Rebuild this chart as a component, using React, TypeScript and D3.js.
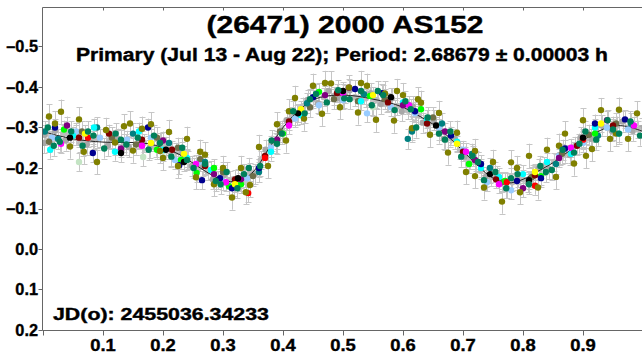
import React from "react";
import * as d3 from "d3";

const TITLE = "(26471) 2000 AS152";
const SUBTITLE = "Primary (Jul 13 - Aug 22); Period: 2.68679 ± 0.00003 h";
const EPOCH = "JD(o): 2455036.34233";

const X_TICKS = [0.1, 0.2, 0.3, 0.4, 0.5, 0.6, 0.7, 0.8, 0.9];
const Y_TICKS = [-0.5, -0.4, -0.3, -0.2, -0.1, 0.0, 0.1, 0.2];

const FIT_PHASE = [0, 0.025, 0.05, 0.075, 0.1, 0.125, 0.15, 0.175, 0.2, 0.225, 0.25, 0.275, 0.3, 0.325, 0.35, 0.375, 0.4, 0.425, 0.45, 0.475, 0.5, 0.525, 0.55, 0.575, 0.6, 0.625, 0.65, 0.675, 0.7, 0.725, 0.75, 0.775, 0.8, 0.825, 0.85, 0.875, 0.9, 0.925, 0.95, 0.975, 1.0];
const FIT_MAG = [-0.29, -0.28, -0.272, -0.267, -0.264, -0.263, -0.263, -0.26, -0.25, -0.235, -0.212, -0.188, -0.17, -0.167, -0.19, -0.245, -0.3, -0.34, -0.368, -0.378, -0.38, -0.377, -0.37, -0.362, -0.35, -0.33, -0.308, -0.278, -0.242, -0.205, -0.175, -0.163, -0.172, -0.192, -0.213, -0.24, -0.268, -0.29, -0.304, -0.302, -0.29];

type P = [number, number];

const GRAY_PTS: P[] = [[0.001,-0.262],[0.003,-0.282],[0.02,-0.292],[0.038,-0.268],[0.055,-0.282],[0.073,-0.258],[0.09,-0.275],[0.108,-0.255],[0.125,-0.272],[0.143,-0.252],[0.16,-0.272],[0.178,-0.25],[0.196,-0.262],[0.213,-0.23],[0.231,-0.24],[0.248,-0.205],[0.266,-0.205],[0.283,-0.172],[0.301,-0.182],[0.318,-0.155],[0.336,-0.178],[0.353,-0.185],[0.371,-0.245],[0.388,-0.262],[0.406,-0.318],[0.423,-0.33],[0.441,-0.368],[0.458,-0.36],[0.476,-0.39],[0.493,-0.372],[0.511,-0.392],[0.528,-0.368],[0.546,-0.385],[0.563,-0.358],[0.581,-0.372],[0.598,-0.34],[0.616,-0.352],[0.633,-0.312],[0.651,-0.318],[0.668,-0.272],[0.686,-0.272],[0.703,-0.228],[0.721,-0.218],[0.738,-0.178],[0.756,-0.18],[0.773,-0.15],[0.791,-0.178],[0.808,-0.165],[0.826,-0.198],[0.843,-0.198],[0.861,-0.232],[0.878,-0.232],[0.896,-0.275],[0.913,-0.272],[0.931,-0.305],[0.948,-0.292],[0.966,-0.315],[0.983,-0.292],[0.998,-0.298]];
const LIGHTGRAY_PTS: P[] = [[0.012,-0.27],[0.035,-0.285],[0.062,-0.262],[0.085,-0.27],[0.112,-0.27],[0.135,-0.262],[0.168,-0.262],[0.188,-0.25],[0.205,-0.255],[0.222,-0.24],[0.242,-0.22],[0.258,-0.196],[0.275,-0.192],[0.292,-0.17],[0.311,-0.17],[0.328,-0.165],[0.345,-0.19],[0.363,-0.22],[0.38,-0.258],[0.398,-0.295],[0.415,-0.328],[0.433,-0.352],[0.45,-0.37],[0.468,-0.375],[0.485,-0.378],[0.503,-0.382],[0.52,-0.375],[0.538,-0.372],[0.556,-0.368],[0.573,-0.36],[0.59,-0.352],[0.608,-0.342],[0.625,-0.33],[0.643,-0.31],[0.66,-0.292],[0.678,-0.275],[0.695,-0.245],[0.712,-0.22],[0.73,-0.195],[0.747,-0.178],[0.765,-0.165],[0.782,-0.165],[0.8,-0.172],[0.817,-0.185],[0.835,-0.205],[0.852,-0.215],[0.87,-0.235],[0.887,-0.255],[0.905,-0.272],[0.922,-0.29],[0.94,-0.3],[0.957,-0.305],[0.975,-0.3],[0.992,-0.295]];
const LIGHTBLUE_PTS: P[] = [[0.015,-0.275],[0.055,-0.29],[0.095,-0.275],[0.14,-0.27],[0.18,-0.275],[0.22,-0.22],[0.26,-0.215],[0.3,-0.168],[0.34,-0.175],[0.38,-0.25],[0.42,-0.322],[0.46,-0.355],[0.5,-0.368],[0.54,-0.335],[0.58,-0.35],[0.62,-0.335],[0.66,-0.3],[0.7,-0.245],[0.74,-0.165],[0.78,-0.145],[0.82,-0.185],[0.86,-0.23],[0.9,-0.262],[0.94,-0.3],[0.975,-0.295]];
const PALEGREEN_PTS: P[] = [[0.06,-0.215],[0.167,-0.227],[0.2,-0.24],[0.55,-0.35]];
const DARKOLIVE_PTS: P[] = [[0.01,-0.265],[0.065,-0.29],[0.115,-0.275],[0.155,-0.258],[0.19,-0.275],[0.225,-0.25],[0.262,-0.222],[0.3,-0.19],[0.35,-0.18],[0.395,-0.29],[0.445,-0.35],[0.485,-0.37],[0.525,-0.365],[0.57,-0.37],[0.65,-0.325],[0.725,-0.215],[0.765,-0.165],[0.815,-0.178],[0.865,-0.235],[0.91,-0.282],[0.955,-0.31]];
const TEAL_PTS: P[] = [[0.003,-0.29],[0.025,-0.272],[0.09,-0.3],[0.15,-0.285],[0.21,-0.262],[0.27,-0.215],[0.36,-0.19],[0.44,-0.36],[0.535,-0.382],[0.608,-0.272],[0.615,-0.29],[0.665,-0.31],[0.715,-0.235],[0.745,-0.2],[0.855,-0.21],[0.925,-0.28],[0.98,-0.31]];
const CYAN_PTS: P[] = [[0.012,-0.245],[0.05,-0.28],[0.085,-0.3],[0.12,-0.24],[0.16,-0.29],[0.2,-0.245],[0.24,-0.225],[0.28,-0.195],[0.38,-0.24],[0.43,-0.33],[0.53,-0.365],[0.6,-0.362],[0.64,-0.32],[0.69,-0.265],[0.73,-0.2],[0.76,-0.178],[0.8,-0.185],[0.84,-0.215],[0.88,-0.235],[0.92,-0.3],[0.96,-0.285]];
const LIME_PTS: P[] = [[0.035,-0.295],[0.19,-0.245],[0.23,-0.22],[0.256,-0.188],[0.285,-0.2],[0.31,-0.155],[0.33,-0.16],[0.4,-0.285],[0.46,-0.388],[0.545,-0.378],[0.63,-0.345],[0.71,-0.21],[0.77,-0.168],[0.83,-0.18],[0.92,-0.285]];
const DARKRED_PTS: P[] = [[0.06,-0.275],[0.11,-0.285],[0.165,-0.27],[0.215,-0.245],[0.27,-0.205],[0.32,-0.172],[0.37,-0.23],[0.41,-0.315],[0.49,-0.385],[0.575,-0.362],[0.64,-0.31],[0.7,-0.24],[0.755,-0.172],[0.82,-0.182],[0.89,-0.255],[0.95,-0.305]];
const RED_PTS: P[] = [[0.075,-0.275],[0.342,-0.138],[0.37,-0.225],[0.773,-0.165],[0.82,-0.156],[0.9,-0.27]];
const NAVY_PTS: P[] = [[0.02,-0.3],[0.083,-0.237],[0.175,-0.3],[0.227,-0.207],[0.265,-0.17],[0.295,-0.175],[0.315,-0.15],[0.36,-0.2],[0.45,-0.375],[0.52,-0.395],[0.565,-0.385],[0.62,-0.34],[0.68,-0.28],[0.73,-0.21],[0.79,-0.168],[0.83,-0.175],[0.87,-0.248],[0.92,-0.31],[0.97,-0.32]];
const PURPLE_PTS: P[] = [[0.04,-0.305],[0.13,-0.248],[0.2,-0.268],[0.285,-0.185],[0.33,-0.172],[0.39,-0.27],[0.47,-0.38],[0.51,-0.398],[0.6,-0.355],[0.67,-0.29],[0.72,-0.22],[0.8,-0.15],[0.86,-0.225],[0.94,-0.318]];
const MAGENTA_PTS: P[] = [[0.03,-0.26],[0.165,-0.255],[0.255,-0.21],[0.305,-0.165],[0.41,-0.305],[0.5,-0.385],[0.61,-0.355],[0.705,-0.24],[0.76,-0.16],[0.88,-0.25],[0.985,-0.305]];
const YELLOW_PTS: P[] = [[0.07,-0.285],[0.18,-0.262],[0.235,-0.235],[0.32,-0.16],[0.43,-0.345],[0.55,-0.38],[0.69,-0.26],[0.82,-0.19],[0.93,-0.31]];
const BLACK_PTS: P[] = [[0.045,-0.275],[0.13,-0.237],[0.205,-0.245],[0.235,-0.215],[0.325,-0.175],[0.425,-0.335],[0.5,-0.39],[0.58,-0.375],[0.655,-0.305],[0.745,-0.185],[0.81,-0.17],[0.9,-0.275]];
const OLIVE_PTS: P[] = [[0.01,-0.327],[0.03,-0.339],[0.045,-0.253],[0.06,-0.32],[0.09,-0.215],[0.105,-0.294],[0.12,-0.263],[0.135,-0.303],[0.15,-0.243],[0.165,-0.297],[0.18,-0.308],[0.195,-0.242],[0.21,-0.289],[0.225,-0.205],[0.24,-0.272],[0.255,-0.177],[0.27,-0.233],[0.285,-0.16],[0.3,-0.2],[0.315,-0.127],[0.33,-0.2],[0.345,-0.158],[0.36,-0.252],[0.375,-0.205],[0.39,-0.308],[0.405,-0.268],[0.42,-0.373],[0.435,-0.322],[0.45,-0.403],[0.465,-0.334],[0.48,-0.409],[0.495,-0.35],[0.51,-0.399],[0.525,-0.337],[0.54,-0.403],[0.555,-0.319],[0.57,-0.384],[0.585,-0.317],[0.6,-0.38],[0.615,-0.298],[0.63,-0.361],[0.645,-0.282],[0.66,-0.336],[0.675,-0.238],[0.69,-0.287],[0.705,-0.19],[0.72,-0.242],[0.735,-0.152],[0.75,-0.215],[0.765,-0.117],[0.78,-0.214],[0.795,-0.14],[0.81,-0.23],[0.825,-0.152],[0.84,-0.245],[0.855,-0.178],[0.87,-0.285],[0.885,-0.211],[0.9,-0.318],[0.915,-0.247],[0.93,-0.343],[0.945,-0.272],[0.96,-0.344],[0.975,-0.272],[0.99,-0.335]];
const OLIVE2_PTS: P[] = [[0.02,-0.31],[0.068,-0.24],[0.145,-0.31],[0.2,-0.225],[0.262,-0.24],[0.338,-0.14],[0.41,-0.34],[0.47,-0.41],[0.53,-0.41],[0.59,-0.39],[0.625,-0.37],[0.72,-0.18],[0.79,-0.2],[0.86,-0.255],[0.905,-0.23],[0.955,-0.285]];
const SEAGREEN_PTS: P[] = [[0.008,-0.3],[0.028,-0.265],[0.047,-0.29],[0.066,-0.255],[0.084,-0.28],[0.102,-0.248],[0.121,-0.285],[0.139,-0.258],[0.158,-0.275],[0.176,-0.245],[0.195,-0.262],[0.214,-0.228],[0.232,-0.25],[0.251,-0.2],[0.27,-0.21],[0.288,-0.168],[0.306,-0.19],[0.324,-0.15],[0.343,-0.2],[0.362,-0.205],[0.381,-0.268],[0.398,-0.285],[0.417,-0.34],[0.436,-0.335],[0.455,-0.383],[0.473,-0.362],[0.492,-0.392],[0.511,-0.37],[0.53,-0.39],[0.548,-0.355],[0.567,-0.38],[0.586,-0.343],[0.604,-0.365],[0.622,-0.3],[0.641,-0.325],[0.66,-0.285],[0.679,-0.29],[0.697,-0.228],[0.716,-0.23],[0.735,-0.17],[0.754,-0.19],[0.772,-0.15],[0.791,-0.185],[0.81,-0.16],[0.829,-0.205],[0.848,-0.195],[0.866,-0.245],[0.885,-0.238],[0.904,-0.29],[0.922,-0.27],[0.941,-0.318],[0.96,-0.285],[0.979,-0.315],[0.995,-0.28]];
const SEAGREEN2_PTS: P[] = [[0.018,-0.255],[0.075,-0.29],[0.13,-0.27],[0.185,-0.28],[0.24,-0.22],[0.296,-0.16],[0.335,-0.185],[0.39,-0.26],[0.445,-0.37],[0.502,-0.372],[0.558,-0.39],[0.613,-0.345],[0.67,-0.27],[0.725,-0.215],[0.78,-0.175],[0.838,-0.19],[0.894,-0.26],[0.95,-0.295]];

const SERIES_COLORS = ["#a8a8a8", "#bcbcbc", "#99ccff", "#c4e4c4", "#6e6e48", "#008080", "#00ffff", "#00ff00", "#800000", "#ff0000", "#000090", "#800080", "#ff00ff", "#ffff00", "#000000", "#808000", "#808000", "#00805a", "#00805a"];
const SERIES_ERRORS = [0.025, 0.022, 0.022, 0.022, 0.025, 0.025, 0.022, 0.022, 0.022, 0.022, 0.022, 0.022, 0.022, 0.02, 0.022, 0.03, 0.03, 0.025, 0.025];
const SERIES_POINTS = [GRAY_PTS, LIGHTGRAY_PTS, LIGHTBLUE_PTS, PALEGREEN_PTS, DARKOLIVE_PTS, TEAL_PTS, CYAN_PTS, LIME_PTS, DARKRED_PTS, RED_PTS, NAVY_PTS, PURPLE_PTS, MAGENTA_PTS, YELLOW_PTS, BLACK_PTS, OLIVE_PTS, OLIVE2_PTS, SEAGREEN_PTS, SEAGREEN2_PTS];

const W = 642;
const H = 358;

export default function App() {
  const x = d3.scaleLinear().domain([0, 1]).range([43, 643]);
  const y = d3.scaleLinear().domain([-0.6, 0.2]).range([6, 330]);
  const left = 42.5;
  const top = 7.5;
  const bottom = 330.5;
  const fit = FIT_PHASE.map((p, i) => [p, FIT_MAG[i]] as P);
  const line = d3.line<P>().x((d) => x(d[0])).y((d) => y(d[1])).curve(d3.curveCatmullRom);
  const series = SERIES_POINTS.map((pts, i) => ({ pts, color: SERIES_COLORS[i], err: SERIES_ERRORS[i] }));
  const font = "'Liberation Sans', Arial, sans-serif";
  const axisColor = "#666";

  return (
    <svg width={W} height={H} style={{ position: "absolute", left: 0, top: 0, background: "#fff" }} fontFamily={font}>
      <defs>
        <clipPath id="plot">
          <rect x={left} y={top} width={W - left} height={bottom - top} />
        </clipPath>
      </defs>
      <rect x={0} y={0} width={W} height={H} fill="#fff" />
      <g clipPath="url(#plot)">
        <g stroke="#c6c6c6" strokeWidth={1}>
          {series.map((s, si) =>
            s.pts.map((d, i) => {
              const cx = Math.round(x(d[0])) + 0.5;
              const y1 = y(d[1] - s.err);
              const y2 = y(d[1] + s.err);
              return (
                <g key={`e${si}-${i}`}>
                  <line x1={cx} x2={cx} y1={y1} y2={y2} />
                  <line x1={cx - 3} x2={cx + 3} y1={Math.round(y1) + 0.5} y2={Math.round(y1) + 0.5} />
                  <line x1={cx - 3} x2={cx + 3} y1={Math.round(y2) + 0.5} y2={Math.round(y2) + 0.5} />
                </g>
              );
            })
          )}
        </g>
        {series.slice(0, 2).map((s, si) => (
          <g key={`s${si}`} fill={s.color}>
            {s.pts.map((d, i) => (
              <circle key={i} cx={x(d[0])} cy={y(d[1])} r={3.2} />
            ))}
          </g>
        ))}
        <path d={line(fit) || ""} fill="none" stroke="#222" strokeWidth={1} />
        {series.slice(2).map((s, si) => (
          <g key={`c${si}`} fill={s.color}>
            {s.pts.map((d, i) => (
              <circle key={i} cx={x(d[0])} cy={y(d[1])} r={3.2} />
            ))}
          </g>
        ))}
      </g>

      <g stroke={axisColor} strokeWidth={1}>
        <line x1={left} x2={left} y1={top} y2={bottom} />
        <line x1={left} x2={W} y1={top} y2={top} />
        <line x1={left} x2={W} y1={bottom} y2={bottom} />
        {[0, ...X_TICKS].map((t) => (
          <line key={`bt${t}`} x1={Math.round(x(t)) + 0.5} x2={Math.round(x(t)) + 0.5} y1={bottom} y2={bottom + 5} />
        ))}
        {X_TICKS.map((t) => (
          <line key={`tt${t}`} x1={Math.round(x(t)) + 0.5} x2={Math.round(x(t)) + 0.5} y1={top} y2={top + 3} />
        ))}
        {Y_TICKS.map((t) => (
          <line key={`lt${t}`} x1={left - 4} x2={left} y1={Math.round(y(t)) + 0.5} y2={Math.round(y(t)) + 0.5} />
        ))}
      </g>

      <g fontWeight="bold" fill="#000" stroke="#000" strokeWidth={0.35} fontSize={16}>
        {Y_TICKS.map((t) => (
          <text key={`yl${t}`} transform={`translate(38,${y(t) + 5.5}) scale(1.02,1)`} textAnchor="end">
            {t < 0 ? "–" + Math.abs(t).toFixed(1) : t.toFixed(1)}
          </text>
        ))}
        {X_TICKS.map((t) => (
          <text key={`xl${t}`} transform={`translate(${x(t)},${bottom + 20.5}) scale(1.15,1)`} textAnchor="middle">
            {t.toFixed(1)}
          </text>
        ))}
      </g>

      <g fontWeight="bold" fill="#000" stroke="#000" strokeWidth={0.4}>
        <text x={345} y={33} textAnchor="middle" fontSize={24} textLength={277} lengthAdjust="spacingAndGlyphs">
          {TITLE}
        </text>
        <text x={342} y={61} textAnchor="middle" fontSize={18} textLength={532} lengthAdjust="spacingAndGlyphs">
          {SUBTITLE}
        </text>
        <text x={53} y={320} fontSize={17} textLength={216} lengthAdjust="spacingAndGlyphs">
          {EPOCH}
        </text>
      </g>
    </svg>
  );
}
